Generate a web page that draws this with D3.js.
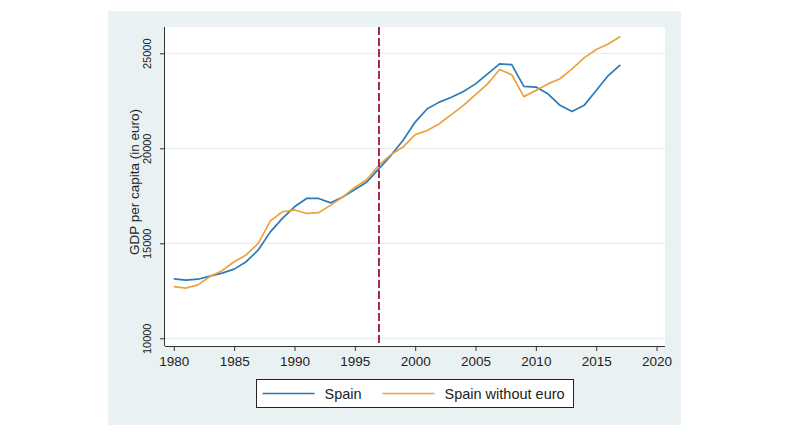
<!DOCTYPE html>
<html>
<head>
<meta charset="utf-8">
<script src="https://cdn.jsdelivr.net/npm/d3@7"></script>
<style>
  body { margin: 0; background: #fff; }
  text { font-family: "Liberation Sans", Arial, sans-serif; fill: #222; }
</style>
</head>
<body>
<svg width="786" height="438"></svg>
<script>
var years = d3.range(1980, 2018);
var spain = [13130, 13060, 13110, 13270, 13430, 13640, 14030, 14650, 15600, 16310,
             16920, 17360, 17360, 17130, 17440, 17830, 18230, 18930, 19630, 20420,
             21380, 22080, 22430, 22690, 22990, 23390, 23920, 24440, 24400, 23260,
             23220, 22870, 22260, 21940, 22260, 23040, 23830, 24390];
var spainNoEuro = [12720, 12640, 12810, 13250, 13560, 14030, 14390, 15000, 16180, 16660,
                   16750, 16570, 16610, 17010, 17440, 17940, 18360, 19110, 19670, 20070,
                   20720, 20940, 21290, 21770, 22260, 22820, 23390, 24150, 23870, 22720,
                   23040, 23390, 23660, 24180, 24760, 25200, 25490, 25880];
var xTicks = [1980, 1985, 1990, 1995, 2000, 2005, 2010, 2015, 2020];
var yTicks = [10000, 15000, 20000, 25000];
var euroYear = 1997;
var seriesNames = ["Spain", "Spain without euro"];
var seriesColors = ["#2b79b8", "#eca23c"];

(function() {
    var svg = d3.select("svg");

    // outer grey-blue panel and white plot region
    svg.append("rect").attr("x", 108).attr("y", 11).attr("width", 573).attr("height", 414)
        .attr("fill", "#eaf1f3");
    var left = 165, top = 27, right = 665, bottom = 346;
    svg.append("rect").attr("x", left).attr("y", top).attr("width", right - left).attr("height", bottom - top)
        .attr("fill", "#fff");

    var x = d3.scaleLinear().domain([1979.27, 2020.7]).range([left, right]);
    var y = d3.scaleLinear().domain([9595, 26384]).range([bottom, top]);

    // gridlines
    svg.selectAll(".grid").data(yTicks).enter().append("line")
        .attr("x1", left).attr("x2", right)
        .attr("y1", function(d) { return y(d); }).attr("y2", function(d) { return y(d); })
        .attr("stroke", "#e8eef0").attr("stroke-width", 1.2);

    var xAxis = svg.append("g").attr("transform", "translate(0," + bottom + ")")
        .call(d3.axisBottom(x).tickValues(xTicks).tickFormat(d3.format("d")).tickSize(5).tickPadding(5));
    xAxis.select(".domain").attr("d", "M" + left + ",0.5H" + right).attr("stroke", "#333");
    xAxis.selectAll(".tick line").attr("stroke", "#333");
    xAxis.selectAll("text").style("font-size", "13.5px").attr("fill", "#222");

    var yAxis = svg.append("g").attr("transform", "translate(" + left + ",0)")
        .call(d3.axisLeft(y).tickValues(yTicks).tickFormat(d3.format("d")).tickSize(5));
    yAxis.select(".domain").attr("d", "M-0.5," + top + "V" + bottom).attr("stroke", "#333");
    yAxis.selectAll(".tick line").attr("stroke", "#333");
    yAxis.selectAll("text")
        .attr("x", null).attr("dy", "0.36em")
        .attr("transform", "translate(-18,0) rotate(-90)")
        .attr("text-anchor", "middle")
        .style("font-size", "11px").attr("fill", "#222");

    svg.append("text")
        .attr("transform", "translate(139,182) rotate(-90)")
        .attr("text-anchor", "middle")
        .style("font-size", "13.5px")
        .text("GDP per capita (in euro)");

    // series lines
    var line = d3.line()
        .x(function(d) { return x(d[0]); })
        .y(function(d) { return y(d[1]); });
    [spain, spainNoEuro].forEach(function(vals, i) {
        svg.append("path")
            .datum(years.map(function(yr, j) { return [yr, vals[j]]; }))
            .attr("d", line)
            .attr("fill", "none")
            .attr("stroke", seriesColors[i])
            .attr("stroke-width", 1.7)
            .attr("stroke-linejoin", "round");
    });

    // euro introduction marker
    svg.append("line")
        .attr("x1", x(euroYear)).attr("x2", x(euroYear))
        .attr("y1", top).attr("y2", bottom)
        .attr("stroke", "#a3294f").attr("stroke-width", 2)
        .attr("stroke-dasharray", "8,3");

    // legend
    var legend = svg.append("g").attr("transform", "translate(256.5,379.5)");
    legend.append("rect").attr("width", 317).attr("height", 28)
        .attr("fill", "#fff").attr("stroke", "#222").attr("stroke-width", 1);
    var offsets = [6, 126];
    seriesNames.forEach(function(name, i) {
        var g = legend.append("g").attr("transform", "translate(" + offsets[i] + ",14)");
        g.append("line").attr("x1", 0).attr("x2", 52).attr("y1", 0).attr("y2", 0)
            .attr("stroke", seriesColors[i]).attr("stroke-width", 1.7);
        g.append("text").attr("x", 62).attr("dy", "0.36em")
            .style("font-size", "14.5px").text(name);
    });
})();
</script>
</body>
</html>
